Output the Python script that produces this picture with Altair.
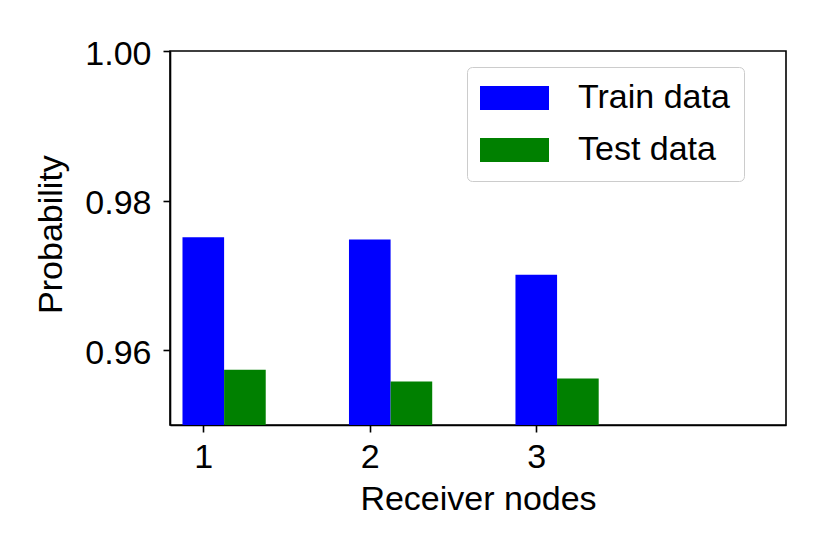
import altair as alt
import pandas as pd

nodes = [1, 2, 3]
train = [0.9751, 0.9748, 0.9701]
test = [0.9574, 0.9558, 0.9562]
series = ["Train data", "Test data"]
colors = ["#0000ff", "#008000"]
bar_w = 0.25

rows = []
for n, tr, te in zip(nodes, train, test):
    rows.append({"node": n, "x0": n - bar_w / 2, "x1": n + bar_w / 2, "value": tr, "series": series[0]})
    rows.append({"node": n, "x0": n + bar_w / 2, "x1": n + 3 * bar_w / 2, "value": te, "series": series[1]})
df = pd.DataFrame(rows)

FONT = "Liberation Sans"
FS = 34

bars = alt.Chart(df).mark_bar(clip=True).encode(
    x=alt.X("x0:Q",
            scale=alt.Scale(domain=[0.8, 4.5], nice=False, zero=False),
            axis=alt.Axis(values=nodes, format="d", title="Receiver nodes",
                          tickSize=7, labelPadding=8, titleY=57,
                          titleBaseline="top")),
    x2="x1:Q",
    y=alt.Y("value:Q",
            scale=alt.Scale(domain=[0.95, 1.0], nice=False, zero=False),
            axis=alt.Axis(values=[0.96, 0.98, 1.00], format=".2f", title="Probability",
                          tickSize=7, labelPadding=12, labelOffset=3,
                          titleX=-119, titleY=183, titleAngle=-90,
                          titleAlign="center", titleBaseline="middle")),
    y2=alt.datum(0.95),
    color=alt.Color("series:N",
                    scale=alt.Scale(domain=series, range=colors),
                    legend=alt.Legend(title=None, orient="none",
                                      legendX=297, legendY=16,
                                      symbolType="M-2.875,-1L2.875,-1L2.875,1L-2.875,1Z",
                                      symbolSize=576, symbolStrokeWidth=0,
                                      symbolOffset=16.5,
                                      labelOffset=46.5, padding=14,
                                      rowPadding=18,
                                      fillColor="white", strokeColor="#cccccc",
                                      cornerRadius=5,
                                      labelFont=FONT, labelFontSize=FS,
                                      labelColor="black")),
)

chart = bars.properties(
    width=616, height=374,
    autosize=alt.AutoSizeParams(type="none"),
    padding={"left": 162, "top": 43, "right": 20, "bottom": 110},
).configure_view(
    stroke="black", strokeWidth=1.6
).configure_axis(
    labelFont=FONT, labelFontSize=FS, labelColor="black",
    titleFont=FONT, titleFontSize=FS, titleColor="black", titleFontWeight="normal",
    domainColor="black", domainWidth=1.6, tickColor="black", tickWidth=1.6,
    grid=False,
)

chart.save("out.html", embed_options={"renderer": "svg", "actions": False})
